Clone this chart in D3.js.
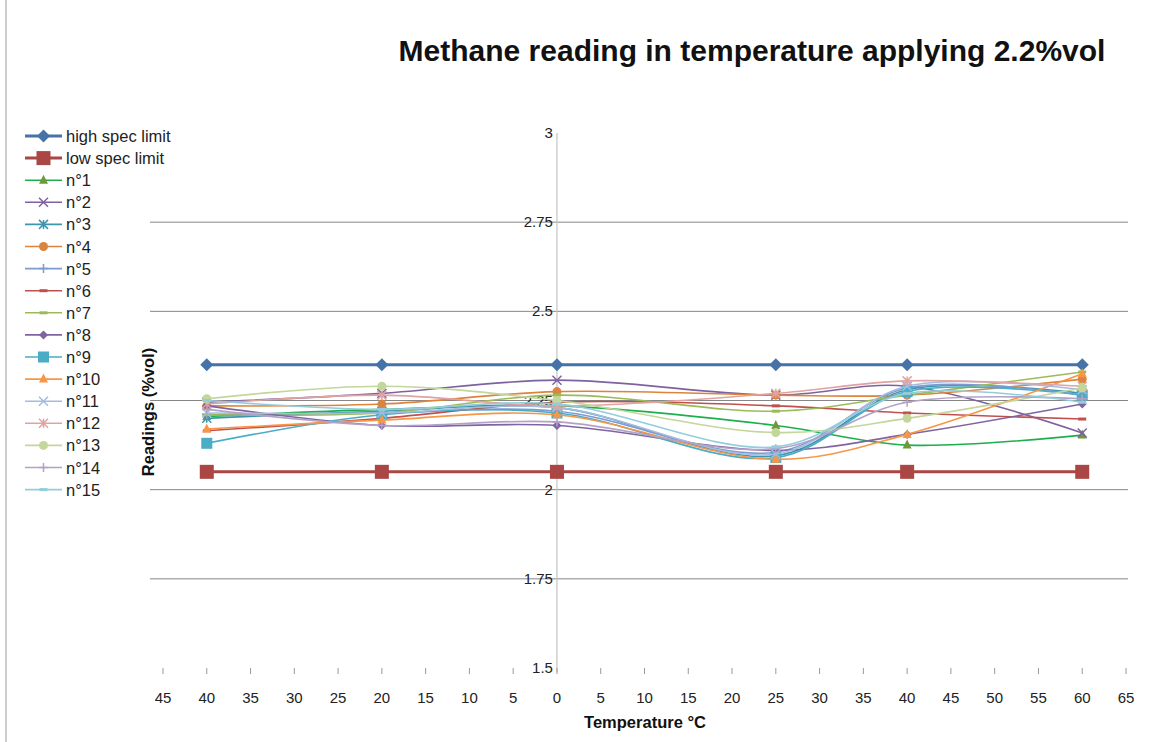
<!DOCTYPE html>
<html>
<head>
<meta charset="utf-8">
<script src="https://cdnjs.cloudflare.com/ajax/libs/d3/7.8.5/d3.min.js"></script>
<style>
body { margin: 0; background: #fff; }
svg { display: block; font-family: "Liberation Sans", Arial, sans-serif; }
.grid line { stroke: #868686; stroke-width: 1; }
.ylab { font-size: 15px; fill: #222; text-anchor: end; }
.xlab { font-size: 15px; fill: #222; text-anchor: middle; }
.legend text { font-size: 16.5px; fill: #222; }
</style>
</head>
<body>
<script>
var temps = [-40, -20, 0, 25, 40, 60];
var xTicks = [-45, -40, -35, -30, -25, -20, -15, -10, -5, 0, 5, 10, 15, 20, 25, 30, 35, 40, 45, 50, 55, 60, 65];
var yTicks = [1.5, 1.75, 2, 2.25, 2.5, 2.75, 3];

var seriesNames = ["high spec limit", "low spec limit", "n°1", "n°2", "n°3", "n°4", "n°5", "n°6", "n°7", "n°8", "n°9", "n°10", "n°11", "n°12", "n°13", "n°14", "n°15"];

var highSpec = [2.35, 2.35, 2.35, 2.35, 2.35, 2.35];
var lowSpec  = [2.05, 2.05, 2.05, 2.05, 2.05, 2.05];
var n1  = [2.205, 2.225, 2.235, 2.18, 2.125, 2.153];
var n2  = [2.245, 2.27, 2.307, 2.265, 2.29, 2.159];
var n3  = [2.20, 2.22, 2.23, 2.095, 2.28, 2.27];
var n4  = [2.235, 2.24, 2.275, 2.265, 2.265, 2.31];
var n5  = [2.21, 2.215, 2.22, 2.105, 2.285, 2.265];
var n6  = [2.165, 2.20, 2.245, 2.235, 2.215, 2.198];
var n7  = [2.21, 2.215, 2.265, 2.22, 2.265, 2.33];
var n8  = [2.235, 2.18, 2.18, 2.11, 2.155, 2.24];
var n9  = [2.13, 2.21, 2.215, 2.09, 2.275, 2.265];
var n10 = [2.17, 2.195, 2.21, 2.085, 2.155, 2.325];
var n11 = [2.215, 2.215, 2.23, 2.10, 2.29, 2.28];
var n12 = [2.24, 2.265, 2.235, 2.27, 2.305, 2.29];
var n13 = [2.255, 2.29, 2.25, 2.16, 2.20, 2.285];
var n14 = [2.225, 2.18, 2.19, 2.115, 2.245, 2.255];
var n15 = [2.25, 2.225, 2.24, 2.12, 2.27, 2.245];

var seriesValues = [highSpec, lowSpec, n1, n2, n3, n4, n5, n6, n7, n8, n9, n10, n11, n12, n13, n14, n15];
var lineColors   = ["#4572A7", "#AA4643", "#1DAF4E", "#7E62A0", "#3D96AE", "#DB843D", "#7C9BD0", "#C0504D", "#9BBB59", "#8064A2", "#4BACC6", "#F79646", "#A3BCE0", "#E0A3A1", "#C3D69B", "#B3A2C7", "#93CDDD"];
var markColors   = ["#4572A7", "#AA4643", "#71993A", "#7E62A0", "#3D96AE", "#DB843D", "#7C9BD0", "#C0504D", "#9BBB59", "#8064A2", "#4BACC6", "#F79646", "#A3BCE0", "#E0A3A1", "#C3D69B", "#B3A2C7", "#93CDDD"];
var markTypes    = ["diamond", "square", "triangle", "x", "star", "circle", "plus", "dash", "dash", "diamond", "square", "triangle", "x", "star", "circle", "plus", "dash"];

var xScale = d3.scaleLinear().domain([-45, 65]).range([163, 1126]);
var yScale = d3.scaleLinear().domain([1.5, 3]).range([668, 133]);

var line = d3.line()
    .x(function(d){ return xScale(d.t); })
    .y(function(d){ return yScale(d.v); })
    .curve(d3.curveCatmullRom.alpha(0.5));

var drawMarker = function(g, type, x, y, color, big){
    var s = big ? 6.5 : 4.5;
    if (type == "diamond") {
        g.append("path").attr("d", "M" + x + "," + (y - s) + "L" + (x + s) + "," + y + "L" + x + "," + (y + s) + "L" + (x - s) + "," + y + "Z").attr("fill", color);
    } else if (type == "square") {
        var q = big ? 7 : 5.5;
        g.append("rect").attr("x", x - q).attr("y", y - q).attr("width", q * 2).attr("height", q * 2).attr("fill", color);
    } else if (type == "triangle") {
        g.append("path").attr("d", "M" + x + "," + (y - s - 1) + "L" + (x + s) + "," + (y + s - 1) + "L" + (x - s) + "," + (y + s - 1) + "Z").attr("fill", color);
    } else if (type == "circle") {
        g.append("circle").attr("cx", x).attr("cy", y).attr("r", s).attr("fill", color);
    } else if (type == "x" || type == "star") {
        g.append("path").attr("d", "M" + (x - s) + "," + (y - s) + "L" + (x + s) + "," + (y + s) + "M" + (x - s) + "," + (y + s) + "L" + (x + s) + "," + (y - s)
            + (type == "star" ? "M" + x + "," + (y - s) + "L" + x + "," + (y + s) : ""))
            .attr("stroke", color).attr("stroke-width", 1.5).attr("fill", "none");
    } else if (type == "plus") {
        g.append("path").attr("d", "M" + (x - s) + "," + y + "L" + (x + s) + "," + y + "M" + x + "," + (y - s) + "L" + x + "," + (y + s))
            .attr("stroke", color).attr("stroke-width", 1.5).attr("fill", "none");
    } else if (type == "dash") {
        g.append("rect").attr("x", x - 4).attr("y", y - 1.5).attr("width", 8).attr("height", 3).attr("fill", color);
    }
};

var loadAxis = function(svg){
    var grid = svg.append("g").classed("grid", true);
    grid.selectAll("line").data(yTicks.slice(1, -1)).enter().append("line")
        .attr("x1", 150).attr("x2", 1128)
        .attr("y1", function(d){ return yScale(d); })
        .attr("y2", function(d){ return yScale(d); });

    // vertical axis at 0
    svg.append("line")
        .attr("x1", xScale(0)).attr("x2", xScale(0))
        .attr("y1", yScale(3)).attr("y2", yScale(1.5) + 4)
        .attr("stroke", "#c4c4c4").attr("stroke-width", 1.2);

    svg.append("g").selectAll("line").data(xTicks).enter().append("line")
        .attr("x1", function(d){ return xScale(d); })
        .attr("x2", function(d){ return xScale(d); })
        .attr("y1", yScale(1.5)).attr("y2", yScale(1.5) + 6)
        .attr("stroke", "#999");

    svg.append("g").selectAll("text").data(xTicks).enter().append("text")
        .classed("xlab", true)
        .attr("x", function(d){ return xScale(d); })
        .attr("y", yScale(1.5) + 35)
        .text(function(d){ return Math.abs(d); });

    svg.append("g").selectAll("text").data(yTicks).enter().append("text")
        .classed("ylab", true)
        .attr("x", xScale(0) - 4)
        .attr("y", function(d){ return yScale(d) + 5; })
        .text(function(d){ return d; });
};

var loadSeries = function(svg){
    seriesValues.forEach(function(vals, i){
        var pts = temps.map(function(t, j){ return {t: t, v: vals[j]}; });
        var g = svg.append("g");
        var big = i < 2;
        g.append("path").datum(pts)
            .attr("d", big ? d3.line().x(function(d){ return xScale(d.t); }).y(function(d){ return yScale(d.v); }) : line)
            .attr("fill", "none")
            .attr("stroke", lineColors[i])
            .attr("stroke-width", big ? 3 : 1.6);
        pts.forEach(function(p){
            drawMarker(g, markTypes[i], xScale(p.t), yScale(p.v), markColors[i], big);
        });
    });
};

var loadLegend = function(svg){
    var lg = svg.append("g").classed("legend", true);
    seriesNames.forEach(function(name, i){
        var y = 136 + i * 22.1;
        var big = i < 2;
        lg.append("line").attr("x1", 25).attr("x2", 62).attr("y1", y).attr("y2", y)
            .attr("stroke", lineColors[i]).attr("stroke-width", big ? 3 : 1.6);
        drawMarker(lg, markTypes[i], 43.5, y, markColors[i], big);
        lg.append("text").attr("x", 66).attr("y", y + 6).text(name);
    });
};

var loadGraph = function(){
    var svg = d3.select("body").append("svg")
        .attr("width", 1174)
        .attr("height", 742);

    svg.append("line").attr("x1", 6).attr("x2", 6).attr("y1", 0).attr("y2", 742)
        .attr("stroke", "#9a9a9a");

    svg.append("text")
        .attr("x", 752).attr("y", 61)
        .attr("text-anchor", "middle")
        .style("font-size", "30px").style("font-weight", "bold").style("fill", "#111")
        .text("Methane reading in temperature applying 2.2%vol");

    loadAxis(svg);
    loadSeries(svg);
    loadLegend(svg);

    svg.append("text")
        .attr("transform", "translate(154,412) rotate(-90)")
        .attr("text-anchor", "middle")
        .style("font-size", "16.5px").style("font-weight", "bold").style("fill", "#111")
        .text("Readings (%vol)");

    svg.append("text")
        .attr("x", 645).attr("y", 728)
        .attr("text-anchor", "middle")
        .style("font-size", "16.5px").style("font-weight", "bold").style("fill", "#111")
        .text("Temperature °C");
};

window.onload = loadGraph;
</script>
</body>
</html>
